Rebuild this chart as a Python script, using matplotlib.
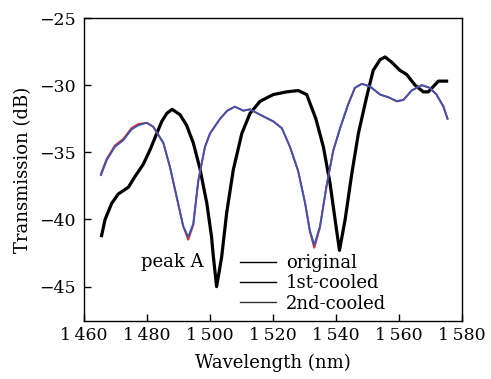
import matplotlib
matplotlib.use("Agg")
import matplotlib.pyplot as plt
from matplotlib.lines import Line2D

# Data
orig_wl = [1465.6, 1466.7, 1468.8, 1470.9, 1474.1, 1476.2, 1478.8, 1481.0, 1483.1, 1484.7,
           1486.3, 1488.0, 1490.5, 1492.6, 1494.7, 1496.8, 1499.0, 1500.5, 1501.0, 1502.1,
           1503.7, 1505.3, 1507.4, 1510.1, 1512.7, 1515.9, 1520.1, 1524.3, 1528.0, 1530.7,
           1533.6, 1536.0, 1538.1, 1539.7, 1541.1, 1542.9, 1545.0, 1547.1, 1549.7, 1551.8,
           1554.0, 1555.6, 1557.7, 1560.3, 1562.4, 1565.1, 1567.7, 1569.3, 1570.9, 1572.5,
           1575.1]
orig_db = [-41.2, -40.0, -38.8, -38.1, -37.6, -36.8, -35.9, -34.8, -33.6, -32.7,
           -32.1, -31.8, -32.2, -33.0, -34.3, -36.2, -38.8, -41.3, -42.6, -45.0,
           -42.8, -39.5, -36.3, -33.6, -32.1, -31.2, -30.7, -30.5, -30.4, -30.7,
           -32.5, -34.6, -37.3, -40.0, -42.3, -40.0, -36.6, -33.6, -30.9, -28.9,
           -28.1, -27.9, -28.3, -28.9, -29.2, -30.0, -30.5, -30.5, -30.1, -29.7,
           -29.7]

cool_wl = [1465.4, 1467.2, 1469.8, 1472.5, 1475.1, 1477.2, 1479.9, 1482.0, 1485.2, 1487.3,
           1489.4, 1491.5, 1493.1, 1494.7, 1496.3, 1498.4, 1500.0, 1503.2, 1505.5, 1507.9,
           1510.6, 1512.7, 1515.9, 1520.1, 1522.8, 1525.4, 1528.0, 1530.2, 1531.7, 1533.1,
           1534.9, 1537.0, 1539.1, 1541.3, 1543.9, 1546.0, 1548.2, 1550.8, 1554.0, 1556.6,
           1559.3, 1561.4, 1564.0, 1567.2, 1569.8, 1571.9, 1574.1, 1575.4]
cool1_db = [-36.6, -35.5, -34.5, -34.0, -33.2, -32.9, -32.8, -33.1, -34.3, -36.1,
            -38.3, -40.5, -41.5, -40.4, -37.1, -34.6, -33.6, -32.5, -31.9, -31.6,
            -31.9, -31.8, -32.2, -32.7, -33.2, -34.6, -36.4, -38.8, -40.9, -42.1,
            -40.6, -37.5, -34.9, -33.2, -31.4, -30.2, -29.9, -30.1, -30.7, -30.9,
            -31.2, -31.1, -30.4, -30.0, -30.2, -30.7, -31.6, -32.5]
cool2_db = [-36.7, -35.6, -34.6, -34.1, -33.3, -33.0, -32.8, -33.1, -34.3, -36.1,
            -38.3, -40.5, -41.3, -40.3, -37.1, -34.6, -33.6, -32.5, -31.9, -31.6,
            -31.9, -31.8, -32.2, -32.7, -33.2, -34.6, -36.4, -38.8, -40.8, -41.9,
            -40.5, -37.5, -34.9, -33.2, -31.4, -30.2, -29.9, -30.1, -30.7, -30.9,
            -31.2, -31.1, -30.4, -30.0, -30.2, -30.7, -31.6, -32.5]

xticks = [1460, 1480, 1500, 1520, 1540, 1560, 1580]
xticklabels = ["1\u2009460", "1\u2009480", "1\u2009500", "1\u2009520", "1\u2009540", "1\u2009560", "1\u2009580"]
yticks = [-45, -40, -35, -30, -25]
yticklabels = ["\u221245", "\u221240", "\u221235", "\u221230", "\u221225"]
series_names = ["original", "1st-cooled", "2nd-cooled"]

plt.rcParams['font.family'] = ['DejaVu Serif']
plt.rcParams['font.size'] = 13

fig = plt.figure(figsize=(4.91, 3.79), dpi=100)
ax = fig.add_axes([0.171, 0.153, 0.770, 0.7995])

ax.plot(orig_wl, orig_db, color='black', lw=2.3, solid_joinstyle='round')
ax.plot(cool_wl, cool1_db, color='#d42a2a', lw=1.4, solid_joinstyle='round')
ax.plot(cool_wl, cool2_db, color='#3558b8', lw=1.3, solid_joinstyle='round')

ax.set_xlim(1460, 1580)
ax.set_ylim(-47.56, -25)
ax.set_xticks(xticks)
ax.set_xticklabels(xticklabels)
ax.set_yticks(yticks)
ax.set_yticklabels(yticklabels)
ax.tick_params(axis='x', direction='in', length=5, width=1, top=False, pad=4, labelsize=12.5)
ax.tick_params(axis='y', direction='in', length=5, width=1, right=False, pad=6, labelsize=12.5)
for s in ax.spines.values():
    s.set_linewidth(1.0)

ax.set_xlabel("Wavelength (nm)", labelpad=7)
ax.set_ylabel("Transmission (dB)", labelpad=5)

ax.text(1487.9, -43.2, "peak A", ha='center', va='center')

handles = [Line2D([], [], color='black', lw=1.0),
           Line2D([], [], color='black', lw=1.0),
           Line2D([], [], color='#333333', lw=1.0)]
ax.legend(handles, series_names, loc='upper left', bbox_to_anchor=(0.413, 0.221),
          frameon=False, handlelength=2.0, handletextpad=0.55, labelspacing=0.13,
          borderpad=0, borderaxespad=0)

fig.savefig("out.png", dpi=100)
